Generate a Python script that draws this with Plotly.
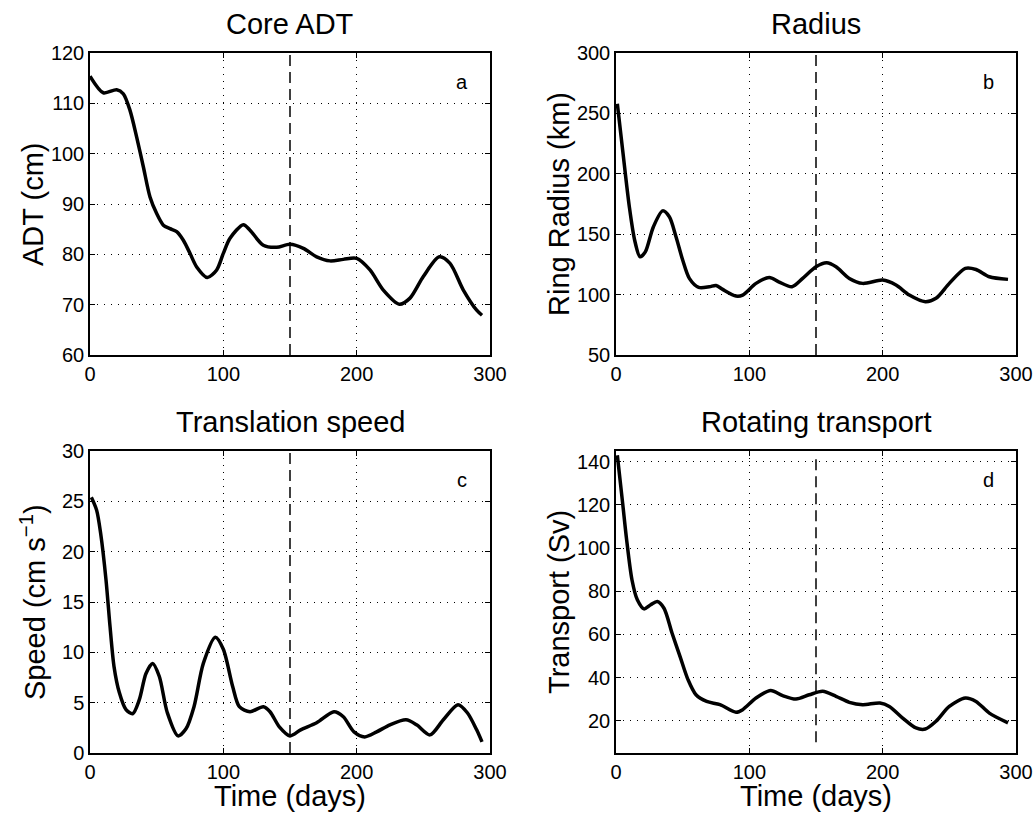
import plotly.graph_objects as go
from plotly.subplots import make_subplots

# ---- data ----
adt_t = [0, 10, 20, 25, 30, 35, 40, 45, 50, 55, 60, 65, 70, 75, 80, 88, 95, 100, 105, 115, 120, 130, 140,
         150, 160, 170, 180, 190, 200, 210, 220, 232, 240, 250, 262, 270, 280, 290, 294]
adt_v = [115.4, 112.1, 112.7, 111.9, 108.6, 103.3, 97.4, 91.4, 88.1, 85.8, 85.1, 84.5, 82.8, 80.2, 77.5,
         75.4, 76.9, 80.2, 83.2, 85.9, 84.8, 81.8, 81.4, 82.0, 81.2, 79.5, 78.7, 79.0, 79.2, 76.9, 72.9,
         70.1, 71.3, 75.6, 79.5, 78.2, 72.9, 68.9, 67.9]

rad_t = [1, 5, 10, 14, 18, 22, 28, 35, 40, 45, 50, 55, 62, 70, 75, 80, 90, 95, 105, 115, 122, 132, 140,
         150, 158, 165, 175, 185, 200, 210, 220, 232, 240, 250, 262, 270, 280, 294]
rad_v = [258, 219.5, 172.7, 145, 131.3, 135.4, 156, 169.3, 164.4, 147.9, 128.6, 113.4, 106, 106.5, 107.6,
         104.3, 98.8, 99.6, 109.3, 114.2, 110.6, 106.5, 113.4, 123, 126.3, 123, 113.4, 109.3, 112.0, 107.9,
         99.6, 94.1, 96.9, 109.3, 121.7, 120.8, 114.8, 112.6]

spd_t = [1, 5, 8, 12, 15, 18, 22, 27, 32, 37, 42, 47, 52, 58, 66, 72, 78, 85, 94, 100, 107, 112, 120, 130,
         135, 142, 150, 158, 170, 183, 190, 198, 206, 215, 225, 237, 245, 255, 265, 276, 283, 290, 294]
spd_v = [25.4, 24.1, 21.8, 17.2, 12.6, 8.6, 6.0, 4.3, 3.9, 5.3, 7.9, 8.9, 7.6, 4.0, 1.7, 2.4, 4.6, 8.9,
         11.5, 10.3, 6.6, 4.6, 4.1, 4.6, 4.1, 2.6, 1.7, 2.3, 3.0, 4.1, 3.6, 2.1, 1.6, 2.1, 2.8, 3.3, 2.8,
         1.8, 3.3, 4.8, 4.0, 2.3, 1.1]

trn_t = [1, 5, 8, 12, 16, 21, 26, 31, 36, 42, 48, 54, 60, 68, 78, 90, 95, 105, 116, 125, 135, 145, 155,
         165, 175, 185, 198, 205, 215, 225, 232, 240, 250, 262, 270, 280, 294]
trn_v = [143, 120.7, 103.7, 85.2, 76, 71.8, 73.7, 75.2, 72.1, 60.6, 49.8, 39, 32, 28.9, 27.4, 23.9, 25.1,
         30.5, 34, 31.6, 30, 32, 33.6, 31.3, 28.5, 27.4, 28.2, 26.6, 21.2, 16.6, 16.1, 19.7, 26.6, 30.5,
         28.9, 23.5, 19]

marker_day = 150
titles = ["Core ADT", "Radius", "Translation speed", "Rotating transport"]
ylabels = ["ADT (cm)", "Ring Radius (km)", "Speed (cm s<sup>−1</sup>)", "Transport (Sv)"]
letters = ["a", "b", "c", "d"]
yranges = [[60, 120], [50, 300], [0, 30], [5, 145]]
ytickvals = [[60, 70, 80, 90, 100, 110, 120], [50, 100, 150, 200, 250, 300],
             [0, 5, 10, 15, 20, 25, 30], [20, 40, 60, 80, 100, 120, 140]]
dash_span = [[60, 120], [50, 300], [0, 30], [10, 143]]
xticks = [0, 100, 200, 300]

series = [(adt_t, adt_v), (rad_t, rad_v), (spd_t, spd_v), (trn_t, trn_v)]

W, H = 1033, 813
fig = make_subplots(rows=2, cols=2)

# pixel geometry of panels: (left, right, top, bottom)
boxes = [(90, 490, 53, 355), (616, 1016, 53, 355), (90, 490, 451, 753), (616, 1016, 451, 753)]
FONT = "Liberation Sans, Arial, sans-serif"

for i, (t, v) in enumerate(series):
    r, c = i // 2 + 1, i % 2 + 1
    fig.add_trace(go.Scatter(x=[marker_day, marker_day], y=dash_span[i], mode="lines",
                             line=dict(color="black", width=1.5, dash="11px,6px"),
                             showlegend=False, hoverinfo="skip"), row=r, col=c)
    fig.add_trace(go.Scatter(x=t, y=v, mode="lines", line=dict(color="black", width=3.5, shape="spline", smoothing=0.8),
                             showlegend=False), row=r, col=c)

axis_common = dict(showline=True, linecolor="black", linewidth=1.5, mirror="ticks",
                   ticks="inside", ticklen=5, tickcolor="black", tickwidth=1,
                   showgrid=True, gridcolor="black", gridwidth=1, griddash="1px,6px",
                   zeroline=False, automargin=False,
                   tickfont=dict(family=FONT, size=20, color="black"))

for i in range(4):
    l, rr, tp, bt = boxes[i]
    xa = "xaxis" if i == 0 else f"xaxis{i+1}"
    ya = "yaxis" if i == 0 else f"yaxis{i+1}"
    fig.layout[xa].update(domain=[l / W, rr / W], range=[0, 300], tickvals=xticks, **axis_common)
    fig.layout[ya].update(domain=[1 - bt / H, 1 - tp / H], range=yranges[i], tickvals=ytickvals[i], **axis_common)
    cx = (l + rr) / 2
    fig.add_annotation(x=cx / W, y=1 - (tp - 29) / H, xref="paper", yref="paper", text=titles[i],
                       showarrow=False, font=dict(family=FONT, size=29, color="black"),
                       xanchor="center", yanchor="middle")
    fig.add_annotation(x=(l - 57) / W, y=1 - ((tp + bt) / 2) / H, xref="paper", yref="paper", text=ylabels[i],
                       showarrow=False, textangle=-90, font=dict(family=FONT, size=29, color="black"),
                       xanchor="center", yanchor="middle")
    fig.add_annotation(x=(rr - 28) / W, y=1 - (tp + 29) / H, xref="paper", yref="paper", text=letters[i],
                       showarrow=False, font=dict(family=FONT, size=20, color="black"),
                       xanchor="center", yanchor="middle")
    if i >= 2:
        fig.add_annotation(x=cx / W, y=1 - 796 / H, xref="paper", yref="paper", text="Time (days)",
                           showarrow=False, font=dict(family=FONT, size=29, color="black"),
                           xanchor="center", yanchor="middle")

fig.update_layout(width=W, height=H, margin=dict(l=0, r=0, t=0, b=0),
                  paper_bgcolor="white", plot_bgcolor="white",
                  font=dict(family=FONT, color="black"))

fig.write_html("out.html", config={"displayModeBar": False},
               post_script="document.body.style.margin='0';document.body.style.overflow='hidden';")
